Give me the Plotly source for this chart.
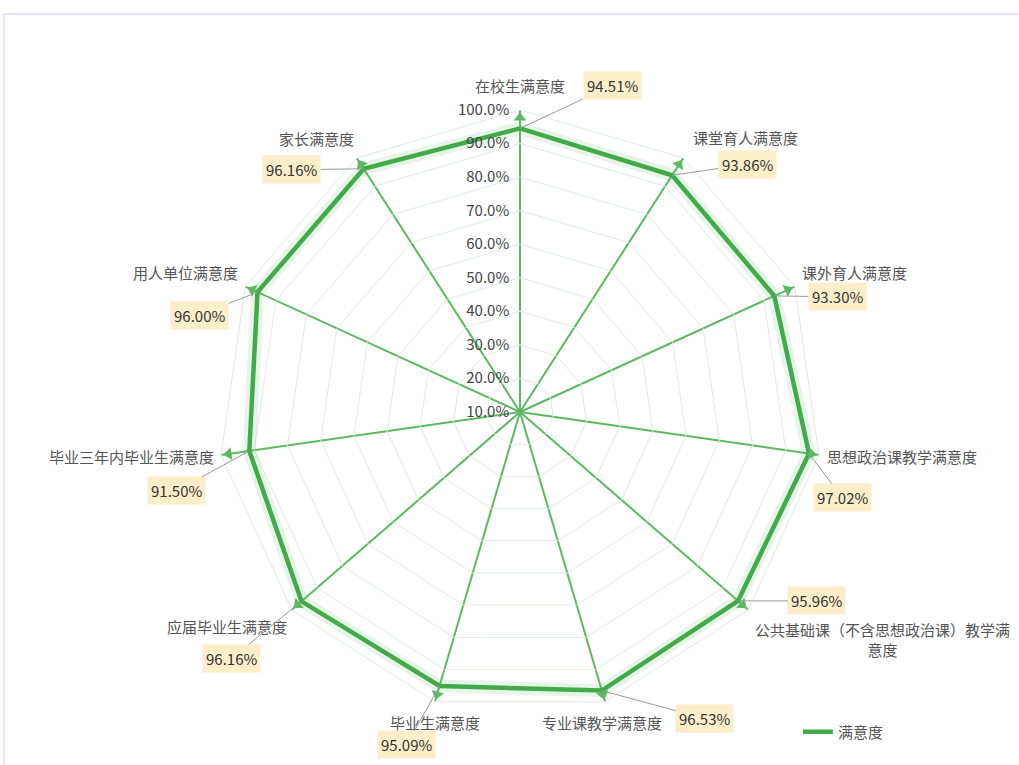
import math
import plotly.graph_objects as go

# ---------------- data ----------------
categories = ["在校生满意度", "课堂育人满意度", "课外育人满意度", "思想政治课教学满意度",
              "公共基础课（不含思想政治课）教学满意度", "专业课教学满意度", "毕业生满意度",
              "应届毕业生满意度", "毕业三年内毕业生满意度", "用人单位满意度", "家长满意度"]
category_labels = ["在校生满意度", "课堂育人满意度", "课外育人满意度", "思想政治课教学满意度",
                   "公共基础课（不含思想政治课）教学满<br>意度", "专业课教学满意度", "毕业生满意度",
                   "应届毕业生满意度", "毕业三年内毕业生满意度", "用人单位满意度", "家长满意度"]
values = [94.51, 93.86, 93.30, 97.02, 95.96, 96.53, 95.09, 96.16, 91.50, 96.00, 96.16]
series_name = "满意度"
radial_ticks = [10, 20, 30, 40, 50, 60, 70, 80, 90, 100]
radial_tick_labels = ["10.0%", "20.0%", "30.0%", "40.0%", "50.0%",
                      "60.0%", "70.0%", "80.0%", "90.0%", "100.0%"]
r_min, r_max = 10, 100

# ---------------- styles / layout ----------------
W, H = 1019, 765
CX, CY, R = 520, 412, 302          # polar centre and radius in px
FONT = "Noto Sans CJK SC"
LINE_GREEN = "#41aa49"
SPOKE_GREEN = "#5cb863"
RING = "#e2eae2"
BOX = "#fbeec9"

dom_x = [(CX - R) / W, (CX + R) / W]
dom_y = [(H - (CY + R)) / H, (H - (CY - R)) / H]

# value label offsets (px, from vertex to label box centre; +y is down)
value_offsets = [(92, -43), (75, -11), (63, 1), (33, 44), (79, 0), (103, 28),
                 (-33, 59), (-70, 57), (-73, 40), (-58, 23), (-72, 1)]
# category label placement relative to the axis end (anchor, xshift, yshift; +y up)
name_place = [("center", 0, 25), ("left", 8, 20), ("left", 5, 14), ("left", 6, -2),
              ("left", 5, -30), ("center", -3, -21), ("center", 0, -21),
              ("right", -3, -17), ("right", -5, -2), ("right", -5, 14),
              ("right", -1, 19)]

n = len(categories)
fig = go.Figure()

# glow under the line
fig.add_trace(go.Scatterpolar(
    r=values + values[:1], theta=categories + categories[:1], mode="lines",
    line=dict(color="rgba(70,175,80,0.13)", width=13), hoverinfo="skip",
    showlegend=False))
# main series
fig.add_trace(go.Scatterpolar(
    r=values + values[:1], theta=categories + categories[:1], mode="lines",
    name=series_name, line=dict(color=LINE_GREEN, width=4.5)))
# axis arrows
fig.add_trace(go.Scatterpolar(
    r=[r_max - 2.3] * n, theta=categories, mode="markers",
    marker=dict(symbol="triangle-up", size=11, color=SPOKE_GREEN,
                angle=[i * 360 / n for i in range(n)]),
    cliponaxis=False, hoverinfo="skip", showlegend=False))


def to_paper(r, i):
    ang = math.radians(90 - i * 360 / n)
    nr = (r - r_min) / (r_max - r_min)
    px = 0.5 + 0.5 * nr * math.cos(ang)
    py = 0.5 + 0.5 * nr * math.sin(ang)
    return (dom_x[0] + px * (dom_x[1] - dom_x[0]),
            dom_y[0] + py * (dom_y[1] - dom_y[0]))


annotations = []
# category names at the axis ends
for i, (lab, (anc, xs, ys)) in enumerate(zip(category_labels, name_place)):
    x, y = to_paper(r_max, i)
    annotations.append(dict(
        x=x, y=y, xref="paper", yref="paper", text=lab, showarrow=False,
        xanchor=anc, yanchor="middle", xshift=xs, yshift=ys, align="center",
        font=dict(family=FONT, size=15, color="#555555")))
# value boxes with leader lines
for i, (v, (ox, oy)) in enumerate(zip(values, value_offsets)):
    x, y = to_paper(v, i)
    annotations.append(dict(
        x=x, y=y, xref="paper", yref="paper", text=f"{v:.2f}%",
        showarrow=True, arrowhead=0, arrowwidth=1, arrowcolor="#9a9a9a",
        ax=ox, ay=oy, bgcolor=BOX, borderpad=3,
        font=dict(family=FONT, size=15, color="#333333")))

fig.update_layout(
    width=W, height=H, margin=dict(l=0, r=0, t=0, b=0),
    paper_bgcolor="white", plot_bgcolor="white",
    font=dict(family=FONT, size=15, color="#555555"),
    polar=dict(
        domain=dict(x=dom_x, y=dom_y),
        bgcolor="white",
        gridshape="linear",
        radialaxis=dict(range=[r_min, r_max], tickmode="array",
                        tickvals=radial_ticks, ticktext=radial_tick_labels,
                        angle=90, tickangle=90, side="counterclockwise",
                        showline=False, ticks="outside", ticklen=5,
                        tickcolor="rgba(0,0,0,0)", gridcolor=RING, gridwidth=1,
                        tickfont=dict(family=FONT, size=15, color="#444444")),
        angularaxis=dict(direction="clockwise", rotation=90, type="category",
                         categoryarray=categories, showticklabels=False,
                         showline=True, linecolor=RING, linewidth=1,
                         gridcolor=SPOKE_GREEN, gridwidth=1.5, ticks=""),
    ),
    legend=dict(orientation="h", x=0.783, y=0.043, yanchor="middle",
                font=dict(family=FONT, size=15, color="#555555"),
                bgcolor="rgba(0,0,0,0)"),
    annotations=annotations,
    shapes=[dict(type="rect", xref="paper", yref="paper",
                 x0=4 / W, x1=1.01, y0=-0.01, y1=(H - 14) / H,
                 line=dict(color="#dbe3ee", width=1.5), layer="below")],
)

fig.write_html("out.html", config={"displayModeBar": False},
               post_script="document.body.style.margin='0';")
